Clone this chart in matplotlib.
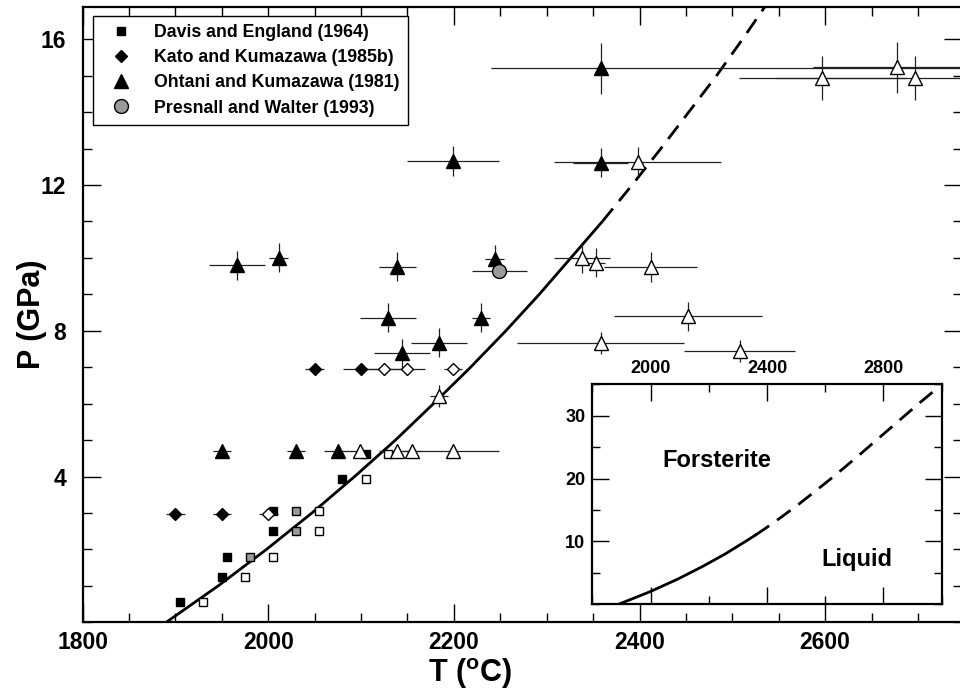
import matplotlib
matplotlib.use("Agg")
import matplotlib.pyplot as plt
from matplotlib.lines import Line2D
from matplotlib.ticker import MultipleLocator

plt.rcParams['font.family'] = ['Liberation Sans', 'DejaVu Sans']
plt.rcParams['font.weight'] = 'bold'
plt.rcParams['mathtext.fontset'] = 'custom'
plt.rcParams['mathtext.rm'] = 'Liberation Sans:bold'
plt.rcParams['mathtext.it'] = 'Liberation Sans:bold'
plt.rcParams['mathtext.bf'] = 'Liberation Sans:bold'

# ---------------- data ----------------
# Davis and England (1964): squares (solid / partial melt / liquid)
de_solid_T = [1905, 1950, 1955, 2005, 2005, 2079, 2105]
de_solid_P = [0.56, 1.25, 1.80, 2.50, 3.05, 3.93, 4.62]
de_mixed_T = [1980, 2030, 2030]
de_mixed_P = [1.80, 2.50, 3.05]
de_liquid_T = [1930, 1975, 2005, 2055, 2055, 2105, 2129]
de_liquid_P = [0.56, 1.25, 1.80, 2.50, 3.05, 3.93, 4.62]

# Kato and Kumazawa (1985b): diamonds
kk_solid_T = [1900, 1950, 2050, 2100]
kk_solid_P = [2.98, 2.98, 6.95, 6.95]
kk_solid_dT = [10, 10, 10, 20]
kk_liquid_T = [2000, 2125, 2149, 2199]
kk_liquid_P = [2.98, 6.95, 6.95, 6.95]
kk_liquid_dT = [10, 20, 20, 10]

# Ohtani and Kumazawa (1981): triangles
ok_solid_T = [1950, 2030, 2075, 1966, 2011, 2139, 2244, 2129, 2229, 2184, 2144, 2199, 2358, 2358]
ok_solid_P = [4.70, 4.70, 4.70, 9.80, 10.0, 9.76, 9.96, 8.36, 8.36, 7.67, 7.38, 12.66, 12.61, 15.20]
ok_solid_dT_lo = [10, 10, 15, 30, 10, 20, 10, 30, 10, 30, 30, 50, 30, 118]
ok_solid_dT_hi = [10, 10, 15, 30, 10, 20, 10, 30, 10, 30, 30, 50, 30, 450]
ok_solid_dP = [0.15, 0.15, 0.15, 0.4, 0.4, 0.4, 0.4, 0.4, 0.4, 0.4, 0.4, 0.4, 0.4, 0.7]

ok_liquid_T = [2099, 2139, 2155, 2199, 2184, 2338, 2353, 2412, 2452, 2508, 2358, 2398, 2597, 2677, 2697]
ok_liquid_P = [4.70, 4.70, 4.70, 4.70, 6.21, 9.99, 9.87, 9.75, 8.40, 7.44, 7.67, 12.64, 14.93, 15.23, 14.93]
ok_liquid_dT = [10, 20, 10, 50, 10, 30, 10, 50, 80, 60, 90, 90, 90, 90, 150]
ok_liquid_dP = [0.15, 0.15, 0.15, 0.15, 0.3, 0.4, 0.4, 0.4, 0.4, 0.3, 0.3, 0.4, 0.6, 0.7, 0.6]

# Presnall and Walter (1993): circle
pw_T = [2249]
pw_P = [9.64]
pw_dT = [30]

# Melting curve of forsterite (T in deg C, P in GPa)
curve_solid_P = [0, 1, 2, 3, 4, 5, 6, 7, 8, 9, 10, 11]
curve_solid_T = [1890, 1946, 1998, 2047, 2093, 2137, 2178, 2218, 2256, 2292, 2326, 2360]
curve_dash_P = [11, 12, 13, 14, 15, 16, 17]
curve_dash_T = [2360, 2392, 2423, 2453, 2483, 2511, 2538]

# Inset: the same curve over the wider pressure range
inset_solid_P = [0, 2, 4, 6, 8, 10, 11]
inset_solid_T = [1890, 1998, 2093, 2178, 2256, 2326, 2360]
inset_dash_P = [11, 12, 14, 16, 18, 20, 22, 24, 26, 28, 30, 32, 34]
inset_dash_T = [2360, 2392, 2453, 2511, 2566, 2620, 2672, 2723, 2773, 2823, 2873, 2923, 2975]

# ---------------- figure ----------------
W, H = 960, 697
fig = plt.figure(figsize=(W / 100, H / 100), dpi=100)
ax = fig.add_axes([82.7 / W, 1 - 622.3 / H, (962 - 82.7) / W, (622.3 - 7.3) / H])

ax.set_xlim(1800, 1800 + (962 - 82.7) / 0.928)
ax.set_ylim(0, (622.3 - 7.3) / 36.44)

lw_curve = 2.0
ax.plot(curve_solid_T, curve_solid_P, color='black', lw=lw_curve, zorder=2,
        solid_capstyle='butt')
ax.plot(curve_dash_T, curve_dash_P, color='black', lw=lw_curve, zorder=2,
        linestyle=(0, (6, 3.5)))

eb = dict(fmt='none', ecolor='#222222', elinewidth=0.9, capsize=0, zorder=3)
ax.errorbar(kk_solid_T, kk_solid_P, xerr=kk_solid_dT, **eb)
ax.errorbar(kk_liquid_T, kk_liquid_P, xerr=kk_liquid_dT, **eb)
ax.errorbar(ok_solid_T, ok_solid_P, xerr=[ok_solid_dT_lo, ok_solid_dT_hi], yerr=ok_solid_dP, **eb)
ax.errorbar(ok_liquid_T, ok_liquid_P, xerr=ok_liquid_dT, yerr=ok_liquid_dP, **eb)
ax.errorbar(pw_T, pw_P, xerr=pw_dT, **eb)

gray = '#9a9a9a'
mk = dict(linestyle='none', markeredgecolor='black', markeredgewidth=1.0, zorder=4)
ax.plot(de_solid_T, de_solid_P, marker='s', ms=6.3, markerfacecolor='black', **mk)
ax.plot(de_mixed_T, de_mixed_P, marker='s', ms=6.3, markerfacecolor=gray, **mk)
ax.plot(de_liquid_T, de_liquid_P, marker='s', ms=6.3, markerfacecolor='white', **mk)
ax.plot(kk_solid_T, kk_solid_P, marker='D', ms=5.8, markerfacecolor='black', **mk)
ax.plot(kk_liquid_T, kk_liquid_P, marker='D', ms=5.8, markerfacecolor='white', **mk)
ax.plot(ok_solid_T, ok_solid_P, marker='^', ms=10, markerfacecolor='black', **mk)
ax.plot(ok_liquid_T, ok_liquid_P, marker='^', ms=10, markerfacecolor='white', **mk)
ax.plot(pw_T, pw_P, marker='o', ms=10, markerfacecolor=gray, **mk)

ax.xaxis.set_major_locator(MultipleLocator(200))
ax.xaxis.set_minor_locator(MultipleLocator(50))
ax.yaxis.set_minor_locator(MultipleLocator(1))
ax.set_yticks([4, 8, 12, 16])
ax.tick_params(which='both', direction='in', top=True, right=True, width=1.0)
ax.tick_params(which='major', length=13, labelsize=16.5)
ax.tick_params(axis='x', which='major', pad=6)
ax.tick_params(axis='y', which='major', pad=12)
ax.tick_params(which='minor', length=6.5)
for s in ax.spines.values():
    s.set_linewidth(1.6)

ax.set_xlabel(r'T ($^{o}$C)', fontsize=22, fontweight='bold')
ax.xaxis.set_label_coords((470 - 82.7) / 879.3, -(674 - 622.3) / 615.0)
ax.xaxis.label.set_va('center')
ax.set_ylabel('P (GPa)', fontsize=22, fontweight='bold')
ax.yaxis.set_label_coords(-(82.7 - 32) / 879.3, (622.3 - 314) / 615.0)
ax.yaxis.label.set_va('center')

handles = [
    Line2D([], [], linestyle='none', marker='s', ms=6.3, mfc='black', mec='black'),
    Line2D([], [], linestyle='none', marker='D', ms=5.8, mfc='black', mec='black'),
    Line2D([], [], linestyle='none', marker='^', ms=10, mfc='black', mec='black'),
    Line2D([], [], linestyle='none', marker='o', ms=10, mfc=gray, mec='black'),
]
labels = ['Davis and England (1964)', 'Kato and Kumazawa (1985b)',
          'Ohtani and Kumazawa (1981)', 'Presnall and Walter (1993)']
leg = ax.legend(handles, labels, loc='upper left',
                bbox_to_anchor=((93 - 82.7) / 879.3, (622.3 - 16) / 615.0),
                borderaxespad=0, fancybox=False, framealpha=1, edgecolor='black',
                prop={'size': 12.8, 'weight': 'bold'}, handlelength=2.2,
                handletextpad=0.8, labelspacing=0.46, borderpad=0.45)
leg.get_frame().set_linewidth(1.0)

# ---------------- inset ----------------
ins = fig.add_axes([592.3 / W, 1 - 604.3 / H, (941.7 - 592.3) / W, (604.3 - 384.3) / H])
ins.set_xlim(1800, 3000)
ins.set_ylim(0, 35)
ins.plot(inset_solid_T, inset_solid_P, color='black', lw=2.0)
ins.plot(inset_dash_T, inset_dash_P, color='black', lw=2.0, linestyle=(0, (6, 3.5)))
ins.xaxis.set_minor_locator(MultipleLocator(200))
ins.yaxis.set_minor_locator(MultipleLocator(5))
ins.set_xticks([2000, 2400, 2800])
ins.set_yticks([10, 20, 30])
ins.tick_params(which='both', direction='in', top=True, right=True, bottom=True,
                labeltop=True, labelbottom=False, width=1.0)
ins.tick_params(which='major', length=12, labelsize=13, pad=5)
ins.tick_params(which='minor', length=6)
for s in ins.spines.values():
    s.set_linewidth(1.6)
ins.text(2226, 22.8, 'Forsterite', fontsize=17, fontweight='bold', ha='center', va='center')
ins.text(2707, 7.1, 'Liquid', fontsize=17, fontweight='bold', ha='center', va='center')

fig.savefig('out.png', dpi=100)
